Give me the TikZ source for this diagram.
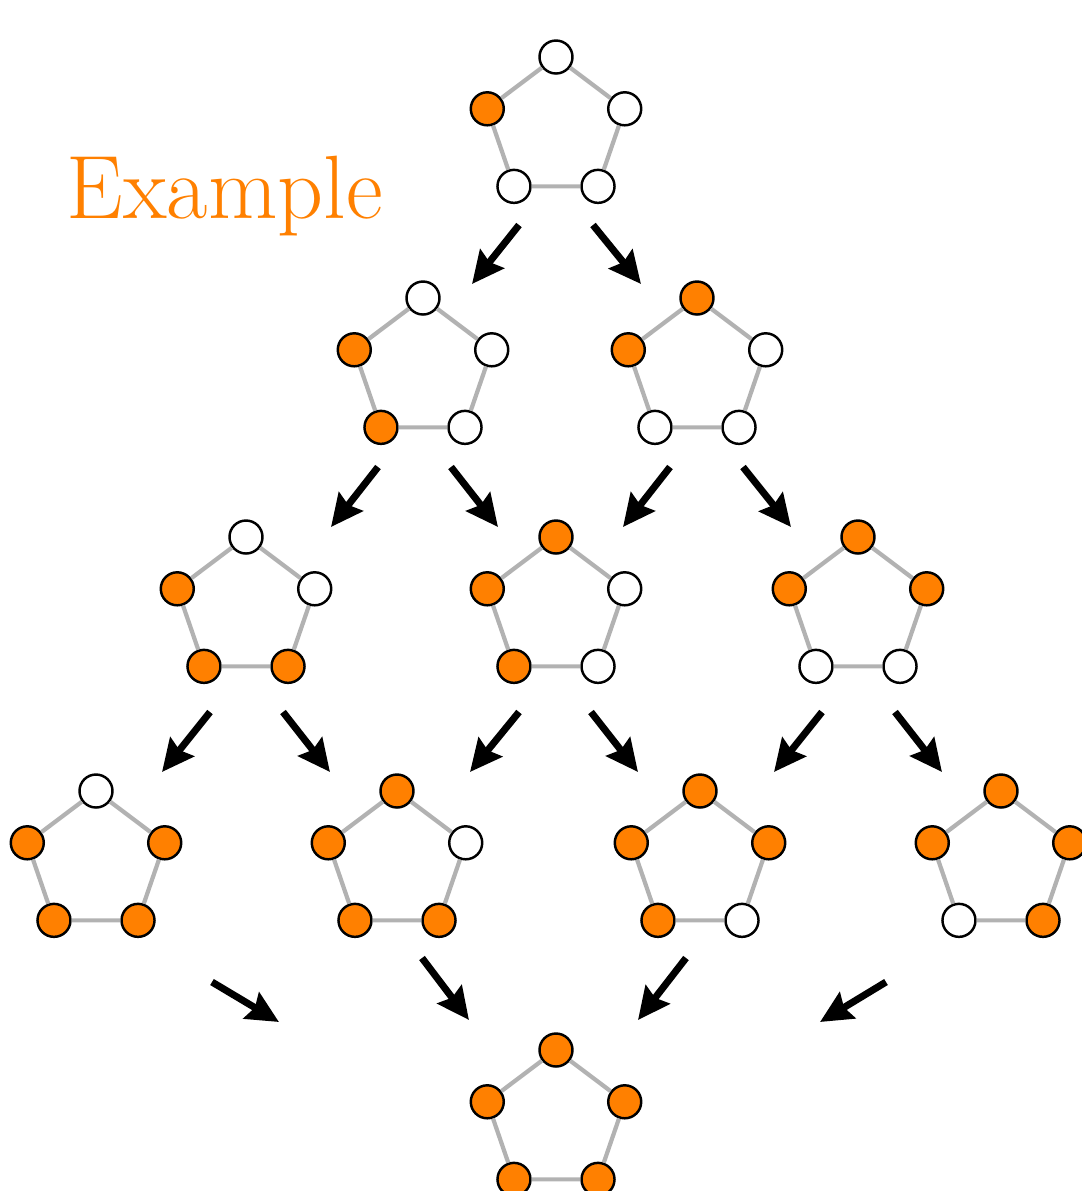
\documentclass[tikz,border=0pt]{standalone}
\usepackage{tikz}
\usetikzlibrary{calc, arrows.meta}

\definecolor{vorange}{RGB}{255,128,0}

\tikzset{
    vtx/.style={circle, draw=black, line width=0.7pt, minimum size=0.33cm, inner sep=0pt},
    on/.style={vtx, fill=vorange},
    off/.style={vtx, fill=white},
    ring/.style={draw=black!30, line width=1.2pt},
    move/.style={line width=2pt, -{Stealth[length=0.32cm, width=0.3cm, inset=0.04cm]}}
}

% #1 name, #2 centre, #3..#7 top, left, right, bottom left, bottom right
\newcommand{\pentagon}[7]{
    \coordinate (#1) at #2;
    \node[#3] (#1t) at ($(#1)+(90:0.715)$) {};
    \node[#4] (#1l) at ($(#1)+(164:0.715)$) {};
    \node[#5] (#1r) at ($(#1)+(16:0.715)$) {};
    \node[#6] (#1a) at ($(#1)+(234:0.715)$) {};
    \node[#7] (#1b) at ($(#1)+(306:0.715)$) {};
    \draw[ring] (#1t) -- (#1r) -- (#1b) -- (#1a) -- (#1l) -- (#1t);
}

\begin{document}
\begin{tikzpicture}

    \useasboundingbox (0,0) rectangle (10.82,-11.91);

    \node[anchor=base west, text=vorange, inner sep=0pt] (title) at (0.66,-2.18)
        {\fontsize{25.6}{30}\selectfont Example};

    % row 0
    \pentagon{P}{(5.56,-1.285)}{off}{on}{off}{off}{off}

    % row 1
    \pentagon{Q}{(4.23,-3.695)}{off}{on}{off}{on}{off}
    \pentagon{R}{(6.97,-3.695)}{on}{on}{off}{off}{off}

    % row 2
    \pentagon{S}{(2.46,-6.085)}{off}{on}{off}{on}{on}
    \pentagon{T}{(5.56,-6.085)}{on}{on}{off}{on}{off}
    \pentagon{U}{(8.58,-6.085)}{on}{on}{on}{off}{off}

    % row 3
    \pentagon{V}{(0.96,-8.625)}{off}{on}{on}{on}{on}
    \pentagon{W}{(3.97,-8.625)}{on}{on}{off}{on}{on}
    \pentagon{X}{(7.00,-8.625)}{on}{on}{on}{on}{off}
    \pentagon{Y}{(10.01,-8.625)}{on}{on}{on}{off}{on}

    % row 4
    \pentagon{Z}{(5.56,-11.215)}{on}{on}{on}{on}{on}

    % arrows
    \foreach \sx/\sy/\ex/\ey [count=\i] in {
        5.19/-2.25/4.72/-2.84, 5.93/-2.25/6.41/-2.84,
        3.78/-4.67/3.31/-5.27, 4.51/-4.67/4.98/-5.27,
        6.70/-4.67/6.23/-5.27, 7.43/-4.67/7.91/-5.27,
        2.10/-7.12/1.62/-7.72, 2.83/-7.12/3.30/-7.72,
        5.19/-7.12/4.70/-7.72, 5.91/-7.12/6.38/-7.72,
        8.22/-7.12/7.74/-7.72, 8.95/-7.12/9.42/-7.72,
        2.12/-9.82/2.79/-10.22, 4.22/-9.58/4.69/-10.20,
        6.86/-9.58/6.38/-10.20, 8.86/-9.82/8.20/-10.22}{
        \coordinate (s\i) at (\sx,\sy);
        \coordinate (e\i) at (\ex,\ey);
        \draw[move] (s\i) -- (e\i);
    }

\end{tikzpicture}
\end{document}
